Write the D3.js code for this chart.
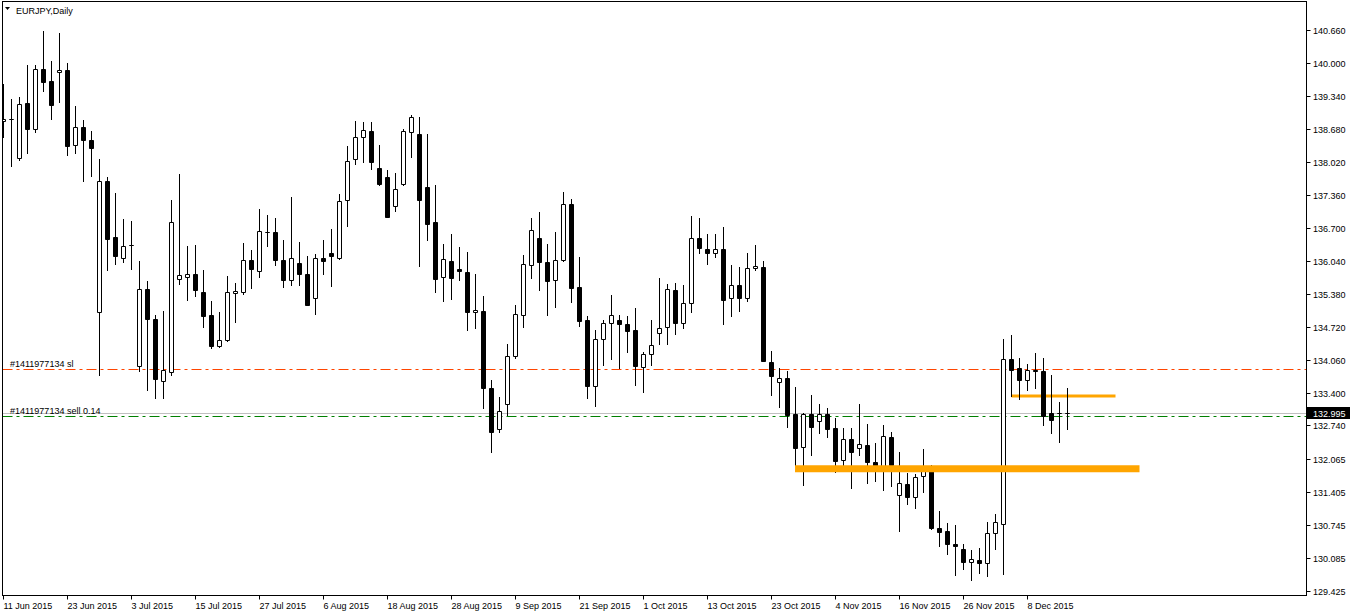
<!DOCTYPE html>
<html>
<head>
<meta charset="utf-8">
<script src="https://cdn.jsdelivr.net/npm/d3@7"></script>
<style>
  html, body { margin: 0; padding: 0; background: #fff; }
  svg { display: block; }
  text { font-family: Tahoma, "Liberation Sans", Arial, sans-serif; font-size: 9px; fill: #000; }
</style>
</head>
<body>
<svg id="chart"></svg>
<script>
// EURJPY daily, 11 Jun 2015 .. 15 Dec 2015
const symbol = 'EURJPY,Daily';
const firstDay = '2015-06-11';

const opens = [138.84,138.88,138.094,139.194,138.686,139.874,139.64,139.814,139.854,138.354,
  138.714,138.46,135.014,137.634,136.52,136.094,136.36,133.926,135.48,134.88,
  133.64,133.814,135.674,135.714,135.78,135.42,134.96,134.326,134.46,135.394,
  135.406,136.054,135.826,136.614,136.614,136.054,135.646,135.994,135.78,135.286,
  136.094,136.194,136.086,137.254,138.086,138.514,138.634,137.894,137.714,137.126,
  137.566,138.614,138.574,137.514,136.814,135.714,136.034,135.874,135.814,135.014,
  135.034,133.494,132.674,133.174,134.134,134.954,135.954,136.5,136.02,135.654,
  136.06,137.18,135.52,134.86,133.526,134.474,134.794,134.854,134.774,134.654,
  133.914,134.18,134.594,134.714,135.454,134.794,135.194,136.494,136.274,136.194,
  136.274,135.294,135.554,135.286,135.894,135.914,134.014,133.614,133.694,132.96,
  132.306,132.96,132.826,132.96,132.694,132.046,132.46,132.294,132.354,132.014,
  131.914,132.514,131.346,131.574,131.306,131.726,131.84,130.694,130.62,130.374,
  130.274,130.014,130.054,129.994,130.594,130.774,134.074,133.894,133.646,133.854,
  133.834,132.98,132.98,132.98];

const highs = [139.58,139.28,139.326,139.96,139.96,140.64,140.04,140.6,140.0,139.14,
  138.86,138.64,138.08,137.72,137.386,136.88,136.826,136.04,135.64,134.946,
  135.04,137.26,137.78,136.34,136.36,135.86,135.24,135.02,135.74,135.6,
  136.394,136.26,137.08,136.96,136.9,136.46,137.32,136.42,136.14,136.18,
  136.46,136.68,137.38,138.34,138.84,138.814,138.814,138.36,137.86,137.8,
  138.674,138.96,138.92,138.58,137.56,136.38,136.58,136.32,136.22,135.78,
  135.34,133.646,133.32,134.38,135.16,136.16,136.9,137.02,136.38,136.606,
  137.42,137.28,136.12,134.926,134.66,134.846,135.36,134.96,134.94,135.1,
  134.214,134.86,135.694,135.574,135.594,135.56,136.94,136.9,136.58,136.58,
  136.72,135.96,135.92,136.2,136.36,136.04,134.24,133.9,133.84,133.52,
  132.994,133.36,133.18,133.094,132.88,132.694,132.694,133.18,132.76,132.38,
  132.74,132.6,132.2,131.78,131.76,132.26,131.94,131.02,130.78,130.74,
  130.36,130.24,130.28,130.8,130.96,134.48,134.56,134.1,133.98,134.2,
  134.1,133.76,133.22,133.5];

const lows = [138.526,137.946,138.06,138.206,138.626,139.446,138.886,139.226,138.166,138.206,
  137.626,137.746,133.746,135.846,135.98,136.014,135.874,133.826,133.46,133.3,
  133.3,133.746,135.574,135.246,135.326,134.706,134.294,134.306,134.426,134.806,
  135.374,135.486,135.706,136.326,135.946,135.506,135.546,135.546,135.146,134.966,
  135.766,135.526,136.066,136.74,137.986,138.026,137.886,137.546,136.906,137.026,
  137.546,138.126,135.926,136.446,135.406,135.226,135.266,135.646,134.646,134.686,
  133.086,132.214,132.614,132.946,134.1,134.706,135.686,135.46,134.96,135.106,
  136.026,135.206,134.726,133.286,133.126,133.96,134.08,133.894,134.206,133.546,
  133.414,133.946,134.374,134.374,134.58,134.686,135.006,136.186,135.966,136.106,
  134.766,134.926,135.026,135.226,135.846,134.026,133.346,133.106,132.706,131.926,
  131.546,132.146,132.594,132.506,131.806,131.826,131.486,132.146,131.586,131.626,
  131.446,131.526,130.626,131.166,131.086,131.406,130.66,130.326,130.166,129.746,
  129.866,129.646,129.786,129.726,130.266,129.766,133.326,133.266,133.446,133.486,
  132.746,132.586,132.406,132.666];

const closes = [138.88,138.88,139.18,138.686,139.874,139.626,139.166,139.854,138.346,138.714,
  138.466,138.306,137.634,136.466,136.126,136.334,136.36,135.48,134.874,133.674,
  133.86,136.814,135.754,135.774,135.446,134.926,134.326,134.46,135.414,135.44,
  136.054,135.874,136.634,136.614,136.046,135.646,136.094,135.766,135.146,136.094,
  136.026,136.126,137.234,138.034,138.514,138.654,138.026,137.566,136.906,137.474,
  138.634,138.914,137.246,136.766,135.666,136.074,135.686,135.834,135.006,135.054,
  133.494,132.614,133.034,134.134,134.974,135.974,136.654,136.006,135.626,136.06,
  137.18,135.486,134.826,133.526,134.474,134.794,134.954,134.774,134.626,133.926,
  134.18,134.354,134.694,135.474,134.794,135.194,136.494,136.286,136.194,136.274,
  135.246,135.554,135.286,135.894,135.934,134.026,133.726,133.694,132.946,132.294,
  132.974,132.706,132.974,132.666,132.026,132.474,132.206,132.374,132.006,131.906,
  132.534,131.946,131.594,131.306,131.714,131.834,130.68,130.606,130.366,130.326,
  130.006,130.074,129.986,130.594,130.814,134.074,133.846,133.646,133.854,133.826,
  132.926,132.846,132.98,132.995];

const priceTicks = [140.660,140.000,139.340,138.680,138.020,137.360,136.700,136.040,135.380,
  134.720,134.060,133.400,132.740,132.065,131.405,130.745,130.085,129.425];

const dateLabels = ['11 Jun 2015','23 Jun 2015','3 Jul 2015','15 Jul 2015','27 Jul 2015',
  '6 Aug 2015','18 Aug 2015','28 Aug 2015','9 Sep 2015','21 Sep 2015','1 Oct 2015',
  '13 Oct 2015','23 Oct 2015','4 Nov 2015','16 Nov 2015','26 Nov 2015','8 Dec 2015'];

// order lines and drawn objects
const orderTicket = '#1411977134';
const orderLots = 0.14;
const orderPrice = 132.925;
const stopPrice = 133.874;
const lastPrice = 132.995;
const zoneLevel = 131.874, zoneFrom = 99, zoneTo = 142;
const targetLevel = 133.33, targetFrom = 126, targetTo = 139;

const W = 1350, H = 613;
const plot = { left: 2.5, top: 1.5, right: 1306.5, bottom: 595.5 };

const svg = d3.select('#chart').attr('width', W).attr('height', H);

// weekday dates for each bar
const start = d3.utcParse('%Y-%m-%d')(firstDay);
const dates = d3.utcDay.range(start, d3.utcDay.offset(start, 400))
  .filter(d => d.getUTCDay() % 6 !== 0)
  .slice(0, opens.length);
const fmt = d3.utcFormat('%-d %b %Y');

const bars = dates.map((d, i) => ({ i, date: d, o: opens[i], h: highs[i], l: lows[i], c: closes[i] }));

const x = d3.scaleLinear().domain([0, 163]).range([3, 3 + 8 * 163]);
const y = d3.scaleLinear().domain([129.425, 140.66]).range([591, 30]);
const cx = i => x(i) + 0.5;
const py = v => Math.round(y(v)) + 0.5;

svg.append('defs').append('clipPath').attr('id', 'plot-clip')
  .append('rect').attr('x', 3).attr('y', 2).attr('width', 1303).attr('height', 593);

const g = svg.append('g').attr('clip-path', 'url(#plot-clip)');

// bid line
g.append('line').attr('x1', plot.left).attr('x2', plot.right)
  .attr('y1', py(lastPrice)).attr('y2', py(lastPrice))
  .attr('stroke', '#c0c0c0').attr('stroke-width', 1);

// stop loss and order lines
g.append('line').attr('x1', plot.left).attr('x2', plot.right)
  .attr('y1', py(stopPrice)).attr('y2', py(stopPrice))
  .attr('stroke', '#ff4500').attr('stroke-width', 1).attr('stroke-dasharray', '10,4,3,4');
g.append('line').attr('x1', plot.left).attr('x2', plot.right)
  .attr('y1', py(orderPrice)).attr('y2', py(orderPrice))
  .attr('stroke', '#008000').attr('stroke-width', 1).attr('stroke-dasharray', '10,4,3,4');

// thin orange line
g.append('line').attr('x1', cx(targetFrom)).attr('x2', cx(targetTo))
  .attr('y1', y(targetLevel)).attr('y2', y(targetLevel))
  .attr('stroke', '#ffa500').attr('stroke-width', 3);

// wicks
g.append('g').selectAll('line').data(bars).enter().append('line')
  .attr('x1', d => cx(d.i)).attr('x2', d => cx(d.i))
  .attr('y1', d => Math.round(y(d.h))).attr('y2', d => Math.round(y(d.l)) + 1)
  .attr('stroke', '#000').attr('stroke-width', 1);

// bodies
g.append('g').selectAll('path').data(bars).enter().append('path')
  .attr('d', d => {
    const t = py(Math.max(d.o, d.c)), b = py(Math.min(d.o, d.c)), c = cx(d.i);
    return `M${c - 2},${t}H${c + 2}V${b}H${c - 2}Z`;
  })
  .attr('fill', d => d.c >= d.o ? '#fff' : '#000')
  .attr('stroke', '#000').attr('stroke-width', 1);

// thick orange zone line
g.append('line').attr('x1', cx(zoneFrom) - 0.5).attr('x2', cx(zoneTo))
  .attr('y1', y(zoneLevel)).attr('y2', y(zoneLevel))
  .attr('stroke', '#ffa500').attr('stroke-width', 7);

// order labels
g.append('text').attr('x', 10).attr('y', py(stopPrice) - 3).text(`${orderTicket} sl`);
g.append('text').attr('x', 10).attr('y', py(orderPrice) - 3).text(`${orderTicket} sell ${orderLots}`);

// frame
svg.append('rect').attr('x', plot.left).attr('y', plot.top)
  .attr('width', plot.right - plot.left).attr('height', plot.bottom - plot.top)
  .attr('fill', 'none').attr('stroke', '#000').attr('stroke-width', 1);

// price axis
const ya = svg.append('g');
ya.selectAll('line').data(priceTicks).enter().append('line')
  .attr('x1', plot.right).attr('x2', plot.right + 4)
  .attr('y1', d => py(d)).attr('y2', d => py(d))
  .attr('stroke', '#000');
ya.selectAll('text').data(priceTicks).enter().append('text')
  .attr('x', 1313).attr('y', d => py(d)).attr('dy', '0.35em')
  .text(d => d3.format('.3f')(d));

// current price tag
svg.append('rect').attr('x', 1307).attr('y', py(lastPrice) - 6.5).attr('width', 43).attr('height', 12).attr('fill', '#000');
svg.append('text').attr('x', 1313).attr('y', py(lastPrice)).attr('dy', '0.35em')
  .style('fill', '#fff').text(d3.format('.3f')(lastPrice));

// date axis
const dateTicks = dateLabels.map(s => bars.find(b => fmt(b.date) === s)).filter(Boolean);
const xa = svg.append('g');
xa.selectAll('line').data(dateTicks).enter().append('line')
  .attr('x1', d => cx(d.i)).attr('x2', d => cx(d.i))
  .attr('y1', plot.bottom).attr('y2', plot.bottom + 4)
  .attr('stroke', '#000');
xa.selectAll('text').data(dateTicks).enter().append('text')
  .attr('x', d => cx(d.i)).attr('y', 609)
  .text(d => fmt(d.date));

// title
svg.append('path').attr('d', 'M5,7L10,7L7.5,10Z').attr('fill', '#000');
svg.append('text').attr('x', 16).attr('y', 14).text(symbol);
</script>
</body>
</html>
